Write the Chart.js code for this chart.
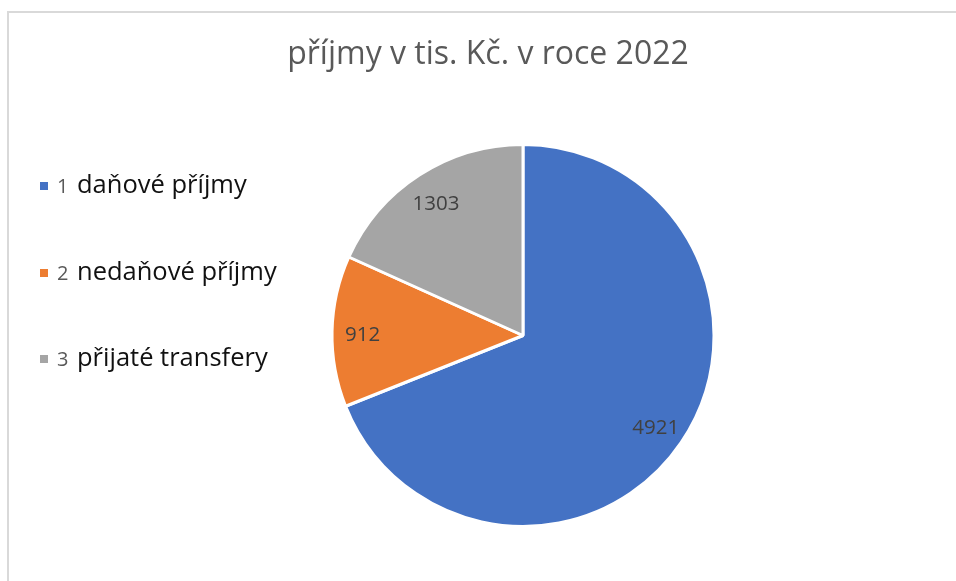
<!DOCTYPE html>
<html>
<head>
<meta charset="utf-8">
<script src="https://cdn.jsdelivr.net/npm/chart.js@4"></script>
<style>
    html, body { margin: 0; padding: 0; background: #ffffff; }
    #wrap { width: 956px; height: 581px; }
</style>
</head>
<body>
<div id="wrap"><canvas id="prijmyChart" width="956" height="581"></canvas></div>
<script>
// Příjmy obce v roce 2022 (tis. Kč)

const chartTitle = 'příjmy v tis. Kč. v roce 2022';
const kody = ['1', '2', '3'];
const nazvy = ['daňové příjmy', 'nedaňové příjmy', 'přijaté transfery'];
const hodnoty = [4921, 912, 1303];
const barvy = ['#4472C4', '#ED7D31', '#A5A5A5'];

const FONT = "'Open Sans', 'Noto Sans', sans-serif";

// frame + title + legend drawn straight on the canvas
const decorPlugin = {
    id: 'decor',
    beforeDraw(chart) {
        const c = chart.ctx;
        c.save();
        c.strokeStyle = '#D9D9D9';
        c.lineWidth = 2;
        c.strokeRect(8, 12, 1000, 600);
        c.restore();
    },
    afterDraw(chart) {
        const c = chart.ctx;
        c.save();
        // title
        c.fillStyle = '#595959';
        c.font = '32px ' + FONT;
        c.textAlign = 'center';
        c.textBaseline = 'alphabetic';
        c.fillText(chartTitle, 488, 64);

        // legend
        const meta = chart.getDatasetMeta(0);
        const rowY = [186, 273, 359];
        kody.forEach((kod, i) => {
            const y = rowY[i];
            c.fillStyle = meta.data[i].options.backgroundColor;
            c.fillRect(40, y - 4, 8, 8);
            c.textAlign = 'left';
            c.textBaseline = 'middle';
            c.fillStyle = '#595959';
            c.font = '20px ' + FONT;
            c.fillText(kod, 57, y + 1);
            c.fillStyle = '#111111';
            c.font = '25.5px ' + FONT;
            c.fillText(nazvy[i], 77, y);
        });

        // data labels along each slice's middle angle
        c.fillStyle = '#404040';
        c.font = '20.5px ' + FONT;
        c.textAlign = 'center';
        c.textBaseline = 'middle';
        meta.data.forEach((arc, i) => {
            const p = arc.getProps(['x', 'y', 'startAngle', 'endAngle', 'outerRadius'], true);
            const mid = (p.startAngle + p.endAngle) / 2;
            const r = p.outerRadius * 0.84;
            c.fillText(String(hodnoty[i]), p.x + Math.cos(mid) * r, p.y + Math.sin(mid) * r + 3);
        });
        c.restore();
    }
};

const prijmyChart = new Chart(document.getElementById('prijmyChart'), {
    type: 'pie',
    data: {
        labels: nazvy.map((n, i) => kody[i] + ' ' + n),
        datasets: [{
            data: hodnoty,
            backgroundColor: barvy,
            borderColor: '#FFFFFF',
            borderWidth: 3,
            radius: 191
        }]
    },
    options: {
        responsive: false,
        animation: false,
        layout: {
            padding: { left: 333, right: 243, top: 145, bottom: 55 }
        },
        plugins: {
            legend: { display: false },
            title: { display: false },
            tooltip: { enabled: false }
        }
    },
    plugins: [decorPlugin]
});
</script>
</body>
</html>
